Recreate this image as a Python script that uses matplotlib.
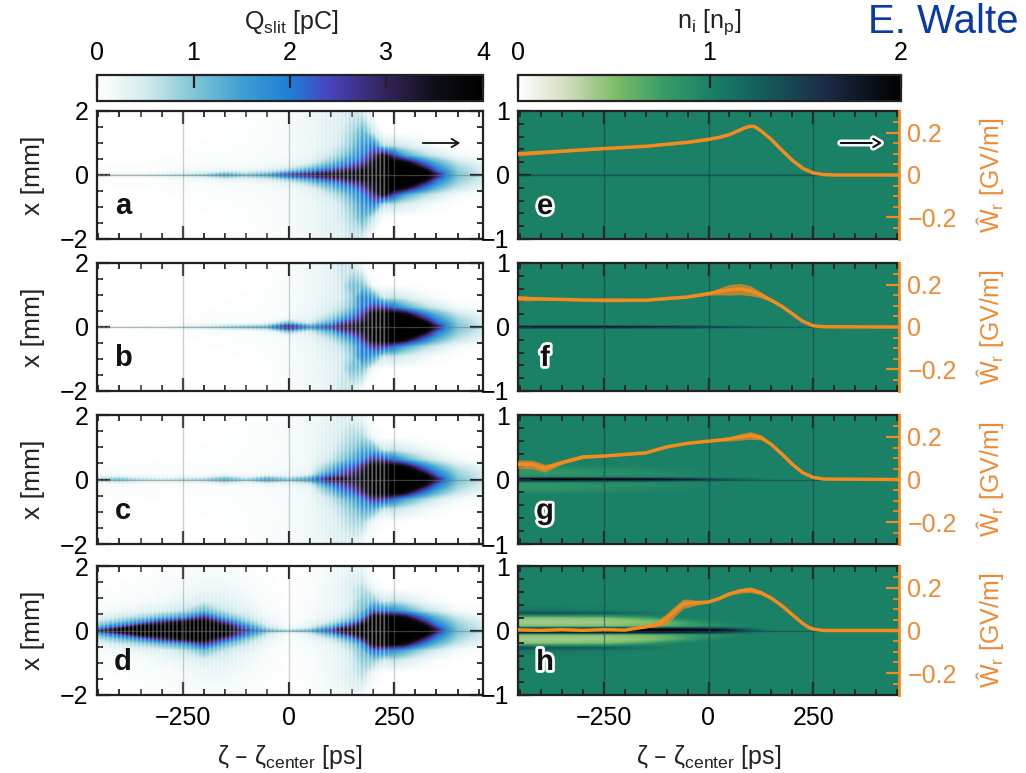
"""Charge and ion density maps with wakefield amplitude, panels a-h."""
import numpy as np
import matplotlib
matplotlib.use("Agg")
import matplotlib.pyplot as plt
import matplotlib.patheffects as pe
from matplotlib.cm import ScalarMappable
from matplotlib.colors import LinearSegmentedColormap, Normalize
from matplotlib.patches import FancyArrowPatch
from matplotlib.ticker import FixedLocator

plt.rcParams["font.family"] = ["Liberation Sans", "DejaVu Sans"]
plt.rcParams["mathtext.default"] = "regular"

W, H = 1026, 773
INK = "#222222"
ORANGE = "#f58a1f"
ORANGE_LABEL = "#ee8a35"

# charge maps, |x| rows against zeta columns, mirrored around x = 0
CHARGE_ZETA = [-460, -400, -350, -300, -250, -200, -150, -100, -50, 0, 50, 100, 125,
               150, 175, 200, 225, 250, 275, 300, 325, 350, 375, 400, 465]
CHARGE_X = [0, 0.04, 0.12, 0.25, 0.4, 0.6, 0.9, 1.3, 2.0]

charge_a = [
    [.5, .5, .5, .6, .7, .9, 1.4, 1.0, 1.4, 2.4, 3.0, 3.5, 3.6, 3.7, 3.8, 3.9, 4, 4, 4, 4, 4, 3.0, 1.7, 1.0, .5],
    [.1, .1, .1, .2, .3, .5, 1.0, .7, 1.0, 2.0, 2.7, 3.3, 3.4, 3.6, 3.7, 3.9, 4, 4, 4, 4, 4, 2.9, 1.65, 1.0, .45],
    [.05, .05, .05, .1, .15, .2, .35, .3, .5, .9, 1.6, 2.6, 3.0, 3.3, 3.5, 3.8, 4, 4, 4, 4, 3.8, 2.2, 1.5, .9, .42],
    [.03, .03, .03, .06, .08, .1, .12, .12, .2, .35, .8, 1.6, 2.1, 2.6, 3.0, 3.6, 4, 4, 4, 3.8, 2.7, 1.7, 1.2, .75, .35],
    [0, .02, .02, .04, .05, .06, .08, .1, .12, .2, .35, 1.0, 1.5, 1.9, 2.4, 3.4, 4, 4, 3.6, 2.6, 1.8, 1.2, .85, .55, .2],
    [0, 0, .01, .02, .03, .04, .05, .06, .1, .15, .25, .6, .9, 1.4, 1.9, 2.8, 3.7, 2.4, 1.4, 1.0, .7, .5, .3, .15, .05],
    [0, 0, 0, .01, .02, .03, .04, .05, .08, .12, .2, .4, .6, 1.0, 1.6, 2.0, .7, .6, .45, .32, .2, .1, .05, 0, 0],
    [0, 0, 0, .01, .02, .02, .03, .04, .07, .12, .22, .35, .5, .8, 1.3, .6, .03, .02, .02, .01, 0, 0, 0, 0, 0],
    [0, 0, 0, 0, .01, .01, .02, .03, .05, .1, .2, .35, .4, .55, .4, 0, 0, 0, 0, 0, 0, 0, 0, 0, 0],
]
charge_b = [
    [.2, .2, .3, .3, .5, .6, .8, 1.0, 1.2, 3.0, 1.5, 2.6, 3.2, 3.4, 3.7, 4, 4, 4, 4, 4, 4, 3.0, 1.7, 1.0, .5],
    [.02, .02, .05, .1, .2, .3, .5, .6, .8, 2.6, 1.2, 2.2, 2.9, 3.2, 3.5, 4, 4, 4, 4, 4, 4, 2.9, 1.65, 1.0, .45],
    [0, 0, .02, .03, .05, .08, .1, .1, .2, 1.1, .5, 1.4, 2.4, 2.9, 3.3, 4, 4, 4, 4, 4, 3.8, 2.2, 1.5, .9, .42],
    [0, 0, .01, .02, .03, .04, .05, .06, .08, .2, .3, .9, 1.5, 2.2, 2.9, 4, 4, 4, 4, 3.8, 2.7, 1.7, 1.2, .75, .35],
    [0, 0, 0, .01, .02, .03, .04, .05, .06, .12, .25, .6, 1.0, 1.6, 2.5, 3.9, 4, 4, 3.6, 2.6, 1.8, 1.2, .85, .55, .2],
    [0, 0, 0, 0, .01, .02, .03, .04, .05, .1, .2, .45, .65, 1.1, 2.0, 2.7, 2.6, 2.0, 1.4, 1.0, .7, .5, .3, .15, .05],
    [0, 0, 0, 0, 0, .01, .02, .03, .04, .1, .2, .38, .5, .9, 1.9, 1.6, .6, .6, .45, .32, .2, .1, .05, 0, 0],
    [0, 0, 0, 0, 0, 0, .01, .02, .03, .1, .2, .32, .5, 1.1, 1.0, .1, .02, .02, .02, .01, 0, 0, 0, 0, 0],
    [0, 0, 0, 0, 0, 0, 0, .01, .02, .08, .18, .32, .6, .4, 0, 0, 0, 0, 0, 0, 0, 0, 0, 0, 0],
]
charge_c = [
    [.9, 1.1, .7, .6, .7, .8, 1.3, .8, 1.4, 1.0, 1.5, 3.2, 3.6, 3.4, 3.6, 4, 4, 4, 4, 4, 4, 3.0, 1.7, 1.0, .5],
    [.5, .7, .4, .3, .4, .5, 1.0, .5, 1.1, .7, 1.2, 3.0, 3.3, 3.2, 3.5, 4, 4, 4, 4, 4, 4, 2.9, 1.65, 1.0, .45],
    [.15, .2, .12, .1, .1, .12, .3, .15, .3, .25, .5, 2.2, 2.6, 3.0, 3.4, 4, 4, 4, 4, 4, 3.8, 2.2, 1.5, .9, .42],
    [.06, .06, .06, .05, .05, .06, .08, .08, .1, .15, .25, 1.4, 2.2, 2.6, 3.2, 4, 4, 4, 4, 3.8, 2.7, 1.7, 1.2, .75, .35],
    [.04, .04, .04, .03, .03, .04, .05, .06, .08, .12, .2, 1.0, 1.7, 2.1, 2.8, 4, 4, 4, 3.6, 2.6, 1.8, 1.2, .85, .55, .2],
    [.03, .03, .03, .02, .02, .03, .04, .05, .07, .1, .18, .6, 1.0, 1.4, 1.9, 2.8, 2.6, 2.0, 1.4, 1.0, .7, .5, .3, .15, .05],
    [.02, .02, .02, .01, .02, .03, .03, .05, .06, .1, .18, .45, .7, 1.0, 1.4, 1.4, .6, .6, .45, .32, .2, .1, .05, 0, 0],
    [.01, .01, .01, .01, .02, .02, .03, .04, .06, .1, .18, .38, .55, .75, .8, .2, .03, .02, .02, .01, 0, 0, 0, 0, 0],
    [0, 0, 0, 0, .01, .02, .02, .04, .08, .12, .18, .32, .4, .4, .15, 0, 0, 0, 0, 0, 0, 0, 0, 0, 0],
]
charge_d = [
    [2.0, 3.9, 4, 4, 4, 4, 3.9, 2.6, 1.2, .8, 1.2, 2.4, 3.6, 3.8, 4, 4, 4, 4, 4, 4, 4, 3.0, 1.7, 1.0, .5],
    [1.7, 3.7, 4, 4, 4, 4, 3.8, 2.2, .8, .25, .7, 2.0, 3.3, 3.5, 3.9, 4, 4, 4, 4, 4, 4, 2.9, 1.65, 1.0, .45],
    [1.1, 2.2, 3.7, 4, 4, 4, 3.8, 1.8, .5, .1, .35, 1.2, 2.2, 3.0, 3.9, 4, 4, 4, 4, 4, 3.8, 2.2, 1.5, .9, .42],
    [.6, 1.1, 1.8, 2.9, 3.7, 4, 2.6, 1.0, .3, .06, .2, .6, 1.0, 1.7, 3.0, 4, 4, 4, 4, 3.8, 2.7, 1.7, 1.2, .75, .35],
    [.3, .55, .8, 1.2, 1.6, 2.8, 1.3, .6, .2, .04, .12, .35, .6, .95, 1.7, 3.9, 4, 3.9, 3.6, 2.6, 1.8, 1.2, .85, .55, .2],
    [.12, .2, .3, .4, .6, 1.2, .6, .35, .12, .03, .1, .25, .35, .65, 1.2, 2.2, 2.0, 1.7, 1.4, 1.0, .7, .5, .3, .15, .05],
    [.05, .08, .12, .18, .3, .45, .38, .2, .08, .02, .08, .2, .3, .5, .95, 1.0, .55, .6, .45, .32, .2, .1, .05, 0, 0],
    [.02, .03, .06, .1, .14, .22, .22, .12, .05, .01, .08, .2, .3, .5, .7, .2, .03, .02, .02, .01, 0, 0, 0, 0, 0],
    [0, 0, .02, .04, .06, .08, .08, .05, .02, 0, .05, .15, .22, .3, .2, 0, 0, 0, 0, 0, 0, 0, 0, 0, 0],
]

# ion density maps
ION_ZETA = [-460, -350, -250, -150, -100, -50, 0, 50, 100, 150, 250, 460]
ION_X = [0, .015, .03, .06, .10, .15, .20, .24, .27, .31, .40, 1.0]

ion_e = [
    [1.15, 1.15, 1.15, 1.15, 1.15, 1.15, 1.15, 1.15, 1.15, 1.15, 1.1, 1.1],
    [1.05, 1.05, 1.05, 1.05, 1.05, 1.05, 1.05, 1.05, 1.05, 1.05, 1.03, 1.03],
] + [[1.0] * 12] * 10
ion_f = [
    [1.8, 1.8, 1.8, 1.7, 1.6, 1.5, 1.4, 1.3, 1.2, 1.1, 1.05, 1.05],
    [1.3, 1.3, 1.3, 1.25, 1.2, 1.2, 1.15, 1.1, 1.05, 1.0, 1.0, 1.0],
] + [[1.0] * 12] * 10
ion_g = [
    [2, 2, 1.95, 1.9, 1.8, 1.7, 1.5, 1.3, 1.15, 1.05, 1.0, 1.0],
    [1.7, 1.7, 1.6, 1.5, 1.4, 1.3, 1.2, 1.1, 1.05, 1.0, 1.0, 1.0],
    [1.0, 1.0, 1.0, 1.0, 1.0, 1.0, 1.0, 1.0, 1.0, 1.0, 1.0, 1.0],
    [.82, .85, .88, .9, .92, .95, .97, 1.0, 1.0, 1.0, 1.0, 1.0],
    [.8, .84, .87, .9, .93, .96, .98, 1.0, 1.0, 1.0, 1.0, 1.0],
    [.82, .85, .9, .94, .96, .98, 1.0, 1.0, 1.0, 1.0, 1.0, 1.0],
    [.9, .92, .95, .98, 1.0, 1.0, 1.0, 1.0, 1.0, 1.0, 1.0, 1.0],
] + [[1.0] * 12] * 5
ion_h = [
    [2, 2, 2, 2, 2, 1.9, 1.9, 1.7, 1.3, 1.05, 1.0, 1.0],
    [2, 2, 2, 2, 2, 1.9, 1.8, 1.6, 1.2, 1.03, 1.0, 1.0],
    [1.5, 1.5, 1.5, 1.5, 1.5, 1.5, 1.4, 1.25, 1.1, 1.0, 1.0, 1.0],
    [.5, .5, .5, .55, .65, .75, .85, .95, 1.0, 1.0, 1.0, 1.0],
    [.42, .42, .42, .5, .58, .72, .85, .95, 1.0, 1.0, 1.0, 1.0],
    [.4, .4, .42, .48, .6, .8, .95, 1.0, 1.0, 1.0, 1.0, 1.0],
    [.45, .48, .5, .7, .9, 1.0, 1.0, 1.0, 1.0, 1.0, 1.0, 1.0],
    [.9, .9, .9, 1.0, 1.0, 1.0, 1.0, 1.0, 1.0, 1.0, 1.0, 1.0],
    [1.35, 1.3, 1.25, 1.1, 1.03, 1.0, 1.0, 1.0, 1.0, 1.0, 1.0, 1.0],
    [1.1, 1.08, 1.04, 1.0, 1.0, 1.0, 1.0, 1.0, 1.0, 1.0, 1.0, 1.0],
    [1.0] * 12,
    [1.0] * 12,
]

# wakefield amplitude with its shot spread
wake_e_z = [-455, -350, -250, -150, -50, 0, 25, 50, 75, 90, 100, 110, 125, 150, 175, 200, 225, 250, 275, 300, 455]
wake_e = [.100, .113, .125, .136, .155, .169, .178, .191, .213, .226, .231, .229, .210, .168, .118, .070, .032, .010, .002, 0, 0]
wake_e_err = [.010, .006, .004, .004, .006, .006, .005, .005, .004, .005, .005, .005, .004, .003, .002, .002, .002, .001, .001, .001, .001]

wake_f_z = [-455, -400, -300, -250, -150, -50, 0, 25, 50, 75, 100, 125, 150, 175, 200, 225, 250, 275, 455]
wake_f = [.136, .133, .128, .127, .127, .142, .158, .168, .176, .180, .172, .152, .127, .098, .063, .027, .006, .001, 0]
wake_f_err = [.014, .006, .004, .008, .006, .004, .007, .016, .025, .027, .024, .014, .008, .004, .003, .002, .001, .001, .001]

wake_g_z = [-455, -420, -390, -350, -300, -250, -150, -100, -50, 0, 25, 50, 75, 100, 125, 150, 175, 200, 225, 250, 275, 455]
wake_g = [.072, .070, .053, .080, .106, .110, .125, .153, .170, .180, .185, .191, .200, .207, .198, .165, .120, .072, .032, .010, .002, 0]
wake_g_err = [.020, .020, .018, .008, .008, .004, .004, .004, .004, .004, .006, .010, .015, .018, .012, .004, .003, .002, .002, .001, .001, .001]

wake_h_z = [-455, -400, -350, -300, -250, -200, -150, -125, -100, -75, -60, -50, -25, 0, 25, 50, 75, 100, 125, 150, 175, 200, 225, 240, 250, 275, 455]
wake_h = [.003, .001, .004, .001, .004, .002, .017, .028, .055, .100, .125, .128, .131, .134, .150, .172, .186, .192, .178, .152, .117, .075, .033, .014, .007, 0, 0]
wake_h_err = [.004, .004, .004, .004, .003, .002, .003, .012, .026, .024, .022, .020, .010, .005, .005, .007, .010, .013, .010, .007, .003, .002, .002, .001, .001, .001, .001]

CHARGE_COLORS = [(0, "#ffffff"), (.125, "#d4ebee"), (.25, "#7fc6d4"), (.375, "#3f9fd4"), (.5, "#1f7ed6"),
                 (.6, "#4a44c0"), (.75, "#33235a"), (.875, "#0e0e18"), (1, "#000000")]
ION_COLORS = [(0, "#ffffff"), (.125, "#d3dcc0"), (.25, "#80bd6a"), (.375, "#3a9d68"), (.5, "#1a8066"),
              (.65, "#155a5c"), (.8, "#1c2c48"), (1, "#000000")]
charge_cmap = LinearSegmentedColormap.from_list("charge", CHARGE_COLORS)
ion_cmap = LinearSegmentedColormap.from_list("ion", ION_COLORS)
charge_norm = Normalize(0, 4)
ion_norm = Normalize(0, 2)

fig = plt.figure(figsize=(W / 100, H / 100), dpi=100)


def axes_px(left, top, right, bottom):
    return fig.add_axes([left / W, 1 - bottom / H, (right - left) / W, (bottom - top) / H])


def text_px(x, y, s, **kw):
    return fig.text(x / W, 1 - y / H, s, ha=kw.pop("ha", "center"), va=kw.pop("va", "center"), **kw)


def mirrored(x, half):
    half = np.array(half, dtype=float)
    x = np.array(x, dtype=float)
    return np.r_[-x[:0:-1], x], np.vstack([half[:0:-1], half])


def style_spines(ax, lw=1.6):
    for s in ax.spines.values():
        s.set_linewidth(lw)
        s.set_color(INK)


def style_zeta_axis(ax, show_labels):
    ax.set_xticks([-250, 0, 250])
    ax.xaxis.set_minor_locator(FixedLocator(np.arange(-450, 451, 50)))
    ax.tick_params(axis="x", which="major", direction="in", top=True, bottom=True, length=9.5, width=1.6,
                   color=INK, labelsize=18, pad=8, labelbottom=show_labels)
    ax.tick_params(axis="x", which="minor", direction="in", top=True, bottom=True, length=4.5, width=1.3, color=INK)


panel_rows = [(111, 239), (263, 391), (415, 544), (566, 695)]
left_panels = [("a", charge_a), ("b", charge_b), ("c", charge_c), ("d", charge_d)]
right_panels = [("e", ion_e, wake_e_z, wake_e, wake_e_err), ("f", ion_f, wake_f_z, wake_f, wake_f_err),
                ("g", ion_g, wake_g_z, wake_g, wake_g_err), ("h", ion_h, wake_h_z, wake_h, wake_h_err)]
charge_levels = np.linspace(0, 4, 162)
ion_levels = np.linspace(0, 2, 122)

for i, (top, bottom) in enumerate(panel_rows):
    last = i == 3

    # left column
    name, half = left_panels[i]
    ax = axes_px(97, top, 483, bottom)
    x, grid = mirrored(CHARGE_X, half)
    ax.contourf(CHARGE_ZETA, x, grid, levels=charge_levels, cmap=charge_cmap, norm=charge_norm,
                extend="both", antialiased=False)
    # bunch train stripes, stronger towards the head
    ax.vlines(np.arange(-445, 235, 9.6), -2, 2, color="white", lw=1.1, alpha=0.28)
    ax.vlines(np.arange(100.6, 235, 9.6), -2, 2, color="white", lw=1.0, alpha=0.22)
    for v in (-250, 0, 250):
        ax.axvline(v, color="#777777", lw=1.0, alpha=0.35)
    ax.axhline(0, color="#777777", lw=0.9, alpha=0.5)
    ax.set_xlim(-453, 460)
    ax.set_ylim(-2, 2)
    ax.set_yticks([-2, 0, 2])
    ax.yaxis.set_minor_locator(FixedLocator(np.arange(-1.5, 1.6, 0.5)))
    ax.tick_params(axis="y", which="major", direction="in", left=True, right=True, length=9.5, width=1.6,
                   color=INK, labelsize=18, pad=6)
    ax.tick_params(axis="y", which="minor", direction="in", left=True, right=True, length=4.5, width=1.3, color=INK)
    style_zeta_axis(ax, last)
    style_spines(ax)
    text_px(123, bottom - 33, name, fontsize=21, fontweight="bold", color="#111111")
    text_px(33, (top + bottom) / 2, "x [mm]", fontsize=19, rotation=90, color=INK)

    # right column
    name, half, wake_z, wake, wake_err = right_panels[i]
    ax = axes_px(518, top, 899, bottom)
    x, grid = mirrored(ION_X, half)
    ax.contourf(ION_ZETA, x, grid, levels=ion_levels, cmap=ion_cmap, norm=ion_norm,
                extend="both", antialiased=False)
    for v in (-250, 0, 250):
        ax.axvline(v, color="#14484a", lw=1.0, alpha=0.6)
    ax.axhline(0, color="#14484a", lw=0.9, alpha=0.6)
    ax.set_xlim(-455, 455)
    ax.set_ylim(-1, 1)
    ax.set_yticks([-1, 0, 1])
    ax.yaxis.set_minor_locator(FixedLocator([-.8, -.6, -.4, -.2, .2, .4, .6, .8]))
    ax.tick_params(axis="y", which="major", direction="in", length=9.5, width=1.6, color=INK, labelsize=18, pad=6)
    ax.tick_params(axis="y", which="minor", direction="in", length=4.5, width=1.3, color=INK)
    style_zeta_axis(ax, last)
    style_spines(ax)
    ax.spines["right"].set_visible(False)

    tw = ax.twinx()
    wake_arr, err_arr = np.array(wake), np.array(wake_err)
    tw.fill_between(wake_z, wake_arr - err_arr, wake_arr + err_arr, color="#d98a2a", alpha=0.8, lw=0)
    tw.plot(wake_z, wake, color=ORANGE, lw=2.5, solid_joinstyle="round")
    tw.set_ylim(-0.303, 0.303)
    tw.set_yticks([-0.2, 0, 0.2])
    tw.set_yticklabels(["\u22120.2", "0", "0.2"])
    tw.yaxis.set_minor_locator(FixedLocator(np.arange(-0.25, 0.26, 0.05)))
    tw.tick_params(axis="y", which="major", direction="in", length=9.5, width=1.6, color=ORANGE,
                   labelcolor=ORANGE_LABEL, labelsize=18, pad=6)
    tw.tick_params(axis="y", which="minor", direction="in", length=4.5, width=1.3, color=ORANGE)
    for side in ("left", "top", "bottom"):
        tw.spines[side].set_visible(False)
    tw.spines["right"].set_color(ORANGE)
    tw.spines["right"].set_linewidth(2.0)

    text_px(545, bottom - 33, name, fontsize=21, fontweight="bold", color="#111111", zorder=5,
            path_effects=[pe.withStroke(linewidth=4, foreground="white")])
    text_px(990, (top + bottom) / 2, "\u0174$_{r}$ [GV/m]", fontsize=18, rotation=90, color=ORANGE_LABEL)

# direction arrows
fig.add_artist(FancyArrowPatch((420 / W, 1 - 143 / H), (463 / W, 1 - 143 / H), transform=fig.transFigure,
                               arrowstyle="->,head_length=5,head_width=3", color="#111111", lw=1.3))
fig.add_artist(FancyArrowPatch((838 / W, 1 - 143 / H), (885 / W, 1 - 143 / H), transform=fig.transFigure,
                               arrowstyle="->,head_length=5,head_width=3", color="#111111", lw=1.5,
                               path_effects=[pe.withStroke(linewidth=5, foreground="white")]))

# colorbars
for rect, cmap, norm, ticks, title in [
    ((97, 75, 483, 101), charge_cmap, charge_norm, [0, 1, 2, 3, 4], "Q$_{slit}$ [pC]"),
    ((518, 75, 901, 101), ion_cmap, ion_norm, [0, 1, 2], "n$_{i}$ [n$_{p}$]"),
]:
    cax = axes_px(*rect)
    cb = fig.colorbar(ScalarMappable(norm=norm, cmap=cmap), cax=cax, orientation="horizontal")
    cb.set_ticks(ticks)
    cb.ax.xaxis.set_ticks_position("top")
    cb.ax.tick_params(axis="x", direction="in", length=9.5, width=1.6, color=INK, labelsize=18, pad=7)
    cb.outline.set_linewidth(1.6)
    cb.outline.set_edgecolor(INK)
    text_px((rect[0] + rect[2]) / 2 + (1 if rect[0] < 100 else 0), 22, title, fontsize=18, color=INK)

text_px(290, 757, "\u03b6 \u2013 \u03b6$_{center}$ [ps]", fontsize=18, color=INK)
text_px(709, 757, "\u03b6 \u2013 \u03b6$_{center}$ [ps]", fontsize=18, color=INK)
text_px(868, 33, "E. Walte", fontsize=29, color="#0a3aa8", ha="left", va="baseline")

fig.savefig("out.png", dpi=100)
